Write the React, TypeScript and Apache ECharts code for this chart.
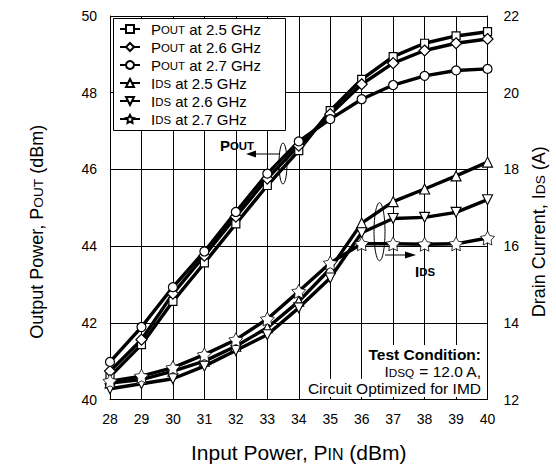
import React, { useEffect, useRef } from "react";
import * as echarts from "echarts";

const inputPower = [28, 29, 30, 31, 32, 33, 34, 35, 36, 37, 38, 39, 40];
const pout25 = [40.6, 41.43, 42.56, 43.56, 44.58, 45.58, 46.49, 47.53, 48.35, 48.94, 49.29, 49.48, 49.59];
const pout26 = [40.74, 41.56, 42.76, 43.75, 44.77, 45.76, 46.62, 47.44, 48.22, 48.77, 49.1, 49.29, 49.4];
const pout27 = [40.98, 41.89, 42.93, 43.86, 44.89, 45.89, 46.73, 47.31, 47.83, 48.2, 48.44, 48.58, 48.62];
const ids25 = [12.43, 12.52, 12.74, 13.0, 13.39, 13.87, 14.56, 15.41, 16.6, 17.16, 17.49, 17.83, 18.19];
const ids26 = [12.28, 12.41, 12.54, 12.87, 13.28, 13.69, 14.39, 15.17, 16.35, 16.72, 16.75, 16.88, 17.21];
const ids27 = [12.48, 12.61, 12.83, 13.17, 13.56, 14.1, 14.82, 15.56, 16.06, 16.06, 16.05, 16.06, 16.21];

const seriesNames = [
  "POUT at 2.5 GHz",
  "POUT at 2.6 GHz",
  "POUT at 2.7 GHz",
  "IDS at 2.5 GHz",
  "IDS at 2.6 GHz",
  "IDS at 2.7 GHz",
];

const STAR =
  "path://M0,-10 L3.06,-4.21 L9.51,-3.09 L4.95,1.61 L5.88,8.09 L0,5.2 L-5.88,8.09 L-4.95,1.61 L-9.51,-3.09 L-3.06,-4.21 Z";
const TRI_DOWN = "path://M0,10 L10,-8 L-10,-8 Z";
const TRI_UP = "path://M0,-10 L10,8 L-10,8 Z";

const FONT = "Liberation Sans, Arial, sans-serif";

// rich-text helper: full-size head, small-caps middle, full-size tail
function caps(head: string, small: string, tail: string): string {
  return `{b|${head}}{s|${small}}{b|${tail}}`;
}

function makeRich(F: number, bold: boolean, lh: number) {
  const f = F * 0.76;
  const w = bold ? "bold" : "normal";
  const p = 0.62 * (F - f);
  return {
    b: { fontSize: F, fontFamily: FONT, fontWeight: w, color: "#000", fill: "#000", lineHeight: lh, verticalAlign: "middle" },
    s: {
      fontSize: f,
      fontFamily: FONT,
      fontWeight: w,
      color: "#000",
      fill: "#000",
      lineHeight: lh,
      verticalAlign: "middle",
      padding: [p, 0, 0, 0],
    },
  };
}

function legendLabel(name: string): string {
  if (name.startsWith("POUT")) return caps("P", "OUT", name.slice(4));
  if (name.startsWith("IDS")) return caps("I", "DS", name.slice(3));
  return `{b|${name}}`;
}

export default function App() {
  const ref = useRef<HTMLDivElement>(null);
  useEffect(() => {
    if (!ref.current) return;
    const chart = echarts.init(ref.current, undefined, { renderer: "svg" });
    const mk = (
      name: string,
      ys: number[],
      symbol: string,
      size: number,
      yAxisIndex: number,
      bw: number
    ) => ({
      name,
      type: "line",
      yAxisIndex,
      data: inputPower.map((x, i) => [x, ys[i]]),
      symbol,
      symbolSize: size,
      showAllSymbol: true,
      lineStyle: { color: "#000", width: 3.4 },
      itemStyle: { color: "#fff", borderColor: "#000", borderWidth: bw },
      emphasis: { disabled: true },
    });

    const titleRich = makeRich(18, false, 22);
    const xTitleRich = makeRich(21, false, 22);

    chart.setOption({
      animation: false,
      backgroundColor: "#fff",
      textStyle: { fontFamily: FONT, color: "#000" },
      grid: { left: 110, top: 16, width: 379, height: 384 },
      legend: {
        left: 113,
        top: 18,
        orient: "vertical",
        data: seriesNames,
        itemWidth: 20,
        itemHeight: 10,
        itemGap: 2,
        padding: [3, 10, 2, 6],
        backgroundColor: "transparent",
        borderWidth: 0,
        formatter: (n: string) => legendLabel(n),
        textStyle: {
          fontSize: 15,
          fontFamily: FONT,
          color: "#000",
          lineHeight: 16,
          padding: [0, 0, 0, 6],
          rich: makeRich(15, false, 16),
        },
      },
      xAxis: {
        type: "value",
        min: 28,
        max: 40,
        interval: 1,
        name: caps("Input Power, P", "IN", " (dBm)"),
        nameLocation: "middle",
        nameGap: 42,
        nameTextStyle: { fontSize: 21, fontFamily: FONT, color: "#000", rich: xTitleRich },
        axisLine: { lineStyle: { color: "#000", width: 1 } },
        axisTick: { show: false },
        axisLabel: { fontSize: 14, color: "#000", margin: 12, fontFamily: FONT },
        splitLine: { show: true, lineStyle: { color: "#000", width: 1 } },
      },
      yAxis: [
        {
          type: "value",
          min: 40,
          max: 50,
          interval: 2,
          name: caps("Output Power, P", "OUT", " (dBm)"),
          nameLocation: "middle",
          nameRotate: 90,
          nameGap: 62,
          nameTextStyle: {
            fontSize: 18,
            fontFamily: FONT,
            color: "#000",
            rich: titleRich,
            padding: [0, 48, 0, 0],
          },
          axisLine: { show: true, lineStyle: { color: "#000", width: 1 } },
          axisTick: { show: false },
          axisLabel: { fontSize: 14, color: "#000", margin: 13, fontFamily: FONT },
          splitLine: { show: true, lineStyle: { color: "#000", width: 1 } },
        },
        {
          type: "value",
          position: "right",
          min: 12,
          max: 22,
          interval: 2,
          name: caps("Drain Current, I", "DS", " (A)"),
          nameLocation: "middle",
          nameRotate: 90,
          nameGap: 34,
          nameTextStyle: {
            fontSize: 18,
            fontFamily: FONT,
            color: "#000",
            rich: titleRich,
            padding: [0, 48, 0, 0],
          },
          axisLine: { show: true, lineStyle: { color: "#000", width: 1 } },
          axisTick: { show: false },
          axisLabel: { fontSize: 14, color: "#000", margin: 16, fontFamily: FONT },
          splitLine: { show: false },
        },
      ],
      graphic: [
        {
          type: "rect",
          z: 3,
          shape: { x: 113.5, y: 18.5, width: 172, height: 112 },
          style: { fill: "#fff", stroke: "#000", lineWidth: 1 },
        },
        {
          type: "text",
          x: 482,
          y: 354,
          z: 100,
          style: {
            text: "Test Condition:",
            fontSize: 15.5,
            fontWeight: "bold",
            fontFamily: FONT,
            fill: "#000",
            align: "right",
            verticalAlign: "middle",
            backgroundColor: "#fff",
            padding: [1, 1, 1, 2],
          },
        },
        {
          type: "text",
          x: 482,
          y: 371,
          z: 100,
          style: {
            text: caps("I", "DSQ", " = 12.0 A,"),
            fontSize: 15.5,
            fontFamily: FONT,
            fill: "#000",
            align: "right",
            verticalAlign: "middle",
            backgroundColor: "#fff",
            padding: [0, 1, 0, 2],
            rich: makeRich(15.5, false, 16),
          },
        },
        {
          type: "text",
          x: 482,
          y: 388,
          z: 100,
          style: {
            text: "Circuit Optimized for IMD",
            fontSize: 15.5,
            fontFamily: FONT,
            fill: "#000",
            align: "right",
            verticalAlign: "middle",
            backgroundColor: "#fff",
            padding: [1, 1, 1, 2],
          },
        },
        {
          type: "text",
          x: 237,
          y: 145,
          z: 100,
          style: {
            text: caps("P", "OUT", ""),
            fontSize: 15,
            fontWeight: "bold",
            fontFamily: FONT,
            fill: "#000",
            align: "center",
            verticalAlign: "middle",
            rich: makeRich(15, true, 16),
          },
        },
        {
          type: "text",
          x: 425,
          y: 271,
          z: 100,
          style: {
            text: caps("I", "DS", ""),
            fontSize: 15,
            fontWeight: "bold",
            fontFamily: FONT,
            fill: "#000",
            align: "center",
            verticalAlign: "middle",
            rich: makeRich(15, true, 16),
          },
        },
        {
          type: "ellipse",
          z: 100,
          shape: { cx: 283, cy: 163.5, rx: 4, ry: 20.5 },
          style: { fill: "none", stroke: "#000", lineWidth: 1 },
        },
        {
          type: "line",
          z: 100,
          shape: { x1: 280, y1: 154, x2: 254, y2: 154 },
          style: { stroke: "#000", lineWidth: 1 },
        },
        {
          type: "polygon",
          z: 100,
          shape: { points: [[246, 154], [256, 150.5], [256, 157.5]] },
          style: { fill: "#000" },
        },
        {
          type: "ellipse",
          z: 100,
          shape: { cx: 379.5, cy: 231.7, rx: 5.5, ry: 29 },
          style: { fill: "none", stroke: "#000", lineWidth: 1 },
        },
        {
          type: "line",
          z: 100,
          shape: { x1: 385, y1: 255, x2: 407, y2: 255 },
          style: { stroke: "#000", lineWidth: 1 },
        },
        {
          type: "polygon",
          z: 100,
          shape: { points: [[416, 255], [405, 251.5], [405, 258.5]] },
          style: { fill: "#000" },
        },
      ],
      series: [
        mk(seriesNames[0], pout25, "rect", 8, 0, 1.2),
        mk(seriesNames[1], pout26, "diamond", 11, 0, 1.2),
        mk(seriesNames[2], pout27, "circle", 9, 0, 1.2),
        mk(seriesNames[3], ids25, TRI_UP, 10, 1, 1.1),
        mk(seriesNames[4], ids26, TRI_DOWN, 10, 1, 1.1),
        mk(seriesNames[5], ids27, STAR, 14, 1, 0.8),
      ],
    });
    return () => chart.dispose();
  }, []);
  return (
    <div
      ref={ref}
      style={{ position: "fixed", left: 0, top: 0, width: 556, height: 468, background: "#fff" }}
    />
  );
}
